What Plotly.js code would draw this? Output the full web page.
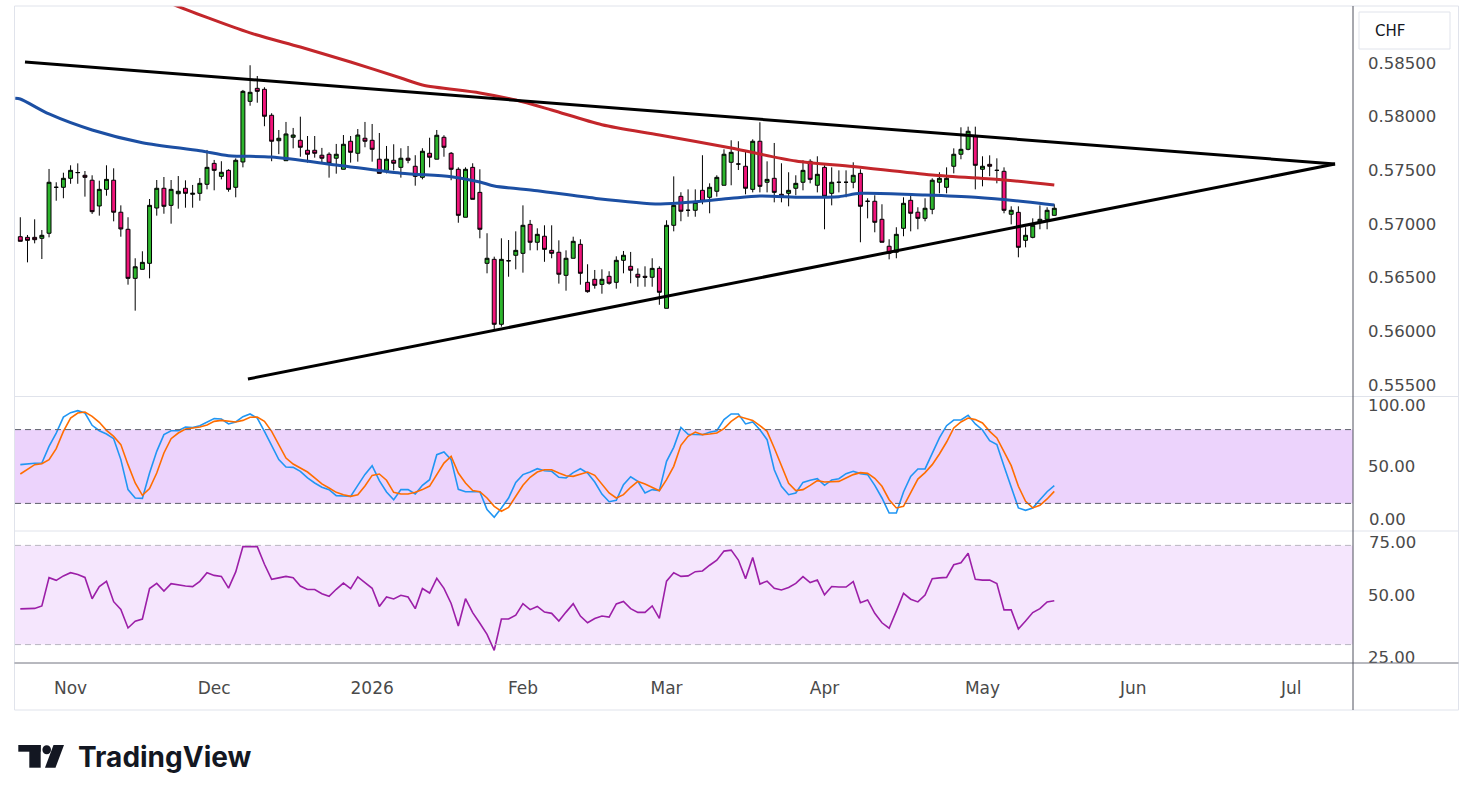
<!DOCTYPE html>
<html>
<head>
<meta charset="utf-8">
<script src="https://cdn.plot.ly/plotly-3.0.1.min.js"></script>
<style>
  html, body { margin: 0; padding: 0; background: #ffffff; }
  #chart { width: 1473px; height: 801px; }
</style>
</head>
<body>
<div id="chart"></div>
<script>
// ---------------- DATA (daily bars, 23 Oct 2025 -> 15 May 2026) ----------------
const openP = [
0.56882,0.56876,0.56876,0.56867,0.56914,0.57342,0.57342,0.57426,0.57478,0.57454,
0.57408,0.57168,0.57323,0.57408,0.57110,0.56951,0.56494,0.56578,0.56634,0.57149,
0.57333,0.57174,0.57282,0.57333,0.57277,0.57286,0.57370,0.57565,0.57444,0.57500,
0.57342,0.57578,0.58143,0.58264,0.58255,0.58013,0.57776,0.57590,0.57808,0.57780,
0.57687,0.57687,0.57641,0.57650,0.57613,0.57510,0.57771,0.57659,0.57799,0.57780,
0.57604,0.57500,0.57594,0.57528,0.57613,0.57538,0.57435,0.57659,0.57604,0.57808,
0.57659,0.57510,0.57063,0.57528,0.57295,0.56634,0.56671,0.56066,0.56659,0.56709,
0.56727,0.56997,0.56830,0.56886,0.56755,0.56737,0.56522,0.56681,0.56811,0.56457,
0.56485,0.56438,0.56513,0.56457,0.56662,0.56606,0.56532,0.56513,0.56504,0.56587,
0.56215,0.56988,0.57258,0.57128,0.57128,0.57314,0.57249,0.57305,0.57361,0.57575,
0.57559,0.57538,0.57323,0.57771,0.57389,0.57426,0.57277,0.57286,0.57333,0.57389,
0.57584,0.57361,0.57528,0.57286,0.57389,0.57389,0.57389,0.57472,0.57212,0.57212,
0.57044,0.56793,0.56737,0.56960,0.57221,0.57110,0.57053,0.57137,0.57389,0.57342,
0.57538,0.57650,0.57696,0.57817,0.57510,0.57556,0.57500,0.57491,0.57091,0.57109,
0.56848,0.56876,0.57016,0.57044,0.57081];
const highP = [
0.57063,0.56898,0.57044,0.56944,0.57513,0.57389,0.57478,0.57547,0.57565,0.57494,
0.57454,0.57404,0.57547,0.57519,0.57174,0.57063,0.56681,0.56746,0.57233,0.57410,
0.57438,0.57410,0.57447,0.57407,0.57364,0.57429,0.57690,0.57597,0.57585,0.57510,
0.57612,0.58249,0.58479,0.58379,0.58274,0.58032,0.57876,0.57951,0.57895,0.58000,
0.57820,0.57820,0.57709,0.57668,0.57746,0.57829,0.57820,0.57885,0.57951,0.57932,
0.57848,0.57727,0.57743,0.57706,0.57727,0.57641,0.57706,0.57804,0.57876,0.57827,
0.57671,0.57528,0.57528,0.57566,0.57510,0.56914,0.56696,0.56867,0.56851,0.56932,
0.57174,0.57038,0.56960,0.56988,0.56988,0.56848,0.56755,0.56882,0.56858,0.56625,
0.56572,0.56578,0.56560,0.56699,0.56749,0.56740,0.56587,0.56606,0.56681,0.56606,
0.57035,0.57444,0.57296,0.57323,0.57323,0.57641,0.57379,0.57454,0.57696,0.57780,
0.57771,0.57687,0.57789,0.57948,0.57584,0.57755,0.57566,0.57482,0.57454,0.57594,
0.57603,0.57631,0.57547,0.57528,0.57500,0.57500,0.57575,0.57510,0.57240,0.57268,
0.57184,0.56858,0.56970,0.57249,0.57268,0.57156,0.57240,0.57426,0.57482,0.57528,
0.57705,0.57901,0.57907,0.57907,0.57631,0.57640,0.57612,0.57528,0.57165,0.57165,
0.56970,0.57053,0.57174,0.57156,0.57184];
const lowP = [
0.56839,0.56643,0.56820,0.56674,0.56876,0.57217,0.57240,0.57375,0.57375,0.57255,
0.57094,0.57078,0.57264,0.57025,0.56882,0.56435,0.56193,0.56578,0.56494,0.57078,
0.57096,0.57003,0.57143,0.57152,0.57152,0.57217,0.57323,0.57314,0.57416,0.57301,
0.57249,0.57528,0.58102,0.58130,0.57911,0.57585,0.57651,0.57590,0.57705,0.57627,
0.57572,0.57618,0.57576,0.57432,0.57469,0.57510,0.57572,0.57581,0.57715,0.57581,
0.57472,0.57472,0.57500,0.57432,0.57566,0.57357,0.57416,0.57528,0.57604,0.57627,
0.57408,0.57012,0.57063,0.57230,0.56867,0.56541,0.56013,0.56044,0.56509,0.56578,
0.56547,0.56755,0.56755,0.56648,0.56681,0.56445,0.56379,0.56681,0.56435,0.56360,
0.56398,0.56351,0.56435,0.56398,0.56541,0.56448,0.56416,0.56416,0.56416,0.56248,
0.56215,0.56932,0.57026,0.57068,0.57068,0.57184,0.57100,0.57255,0.57361,0.57361,
0.57503,0.57277,0.57295,0.57295,0.57295,0.57202,0.57202,0.57165,0.57268,0.57314,
0.57379,0.57295,0.56951,0.57174,0.57295,0.57249,0.57333,0.56830,0.57053,0.56923,
0.56830,0.56671,0.56681,0.56886,0.56932,0.56951,0.57025,0.57091,0.57286,0.57286,
0.57472,0.57603,0.57687,0.57323,0.57351,0.57445,0.57379,0.57100,0.56997,0.56690,
0.56783,0.56867,0.56951,0.56951,0.57081];
const closeP = [
0.56839,0.56848,0.56854,0.56895,0.57389,0.57342,0.57426,0.57500,0.57480,0.57435,
0.57115,0.57323,0.57416,0.57110,0.56954,0.56494,0.56602,0.56643,0.57174,0.57333,
0.57165,0.57323,0.57305,0.57286,0.57286,0.57379,0.57528,0.57500,0.57482,0.57323,
0.57594,0.58236,0.58227,0.58236,0.58004,0.57771,0.57799,0.57839,0.57829,0.57715,
0.57650,0.57659,0.57613,0.57566,0.57650,0.57743,0.57668,0.57829,0.57771,0.57696,
0.57472,0.57604,0.57566,0.57613,0.57594,0.57444,0.57678,0.57622,0.57827,0.57715,
0.57510,0.57081,0.57510,0.57230,0.56951,0.56681,0.56066,0.56671,0.56657,0.56755,
0.56988,0.56830,0.56904,0.56764,0.56727,0.56532,0.56681,0.56839,0.56541,0.56370,
0.56429,0.56485,0.56448,0.56662,0.56709,0.56569,0.56504,0.56504,0.56587,0.56364,
0.56988,0.57174,0.57119,0.57128,0.57202,0.57212,0.57342,0.57435,0.57650,0.57668,
0.57559,0.57333,0.57771,0.57351,0.57416,0.57295,0.57258,0.57314,0.57379,0.57500,
0.57416,0.57463,0.57258,0.57389,0.57389,0.57389,0.57454,0.57165,0.57212,0.57016,
0.56830,0.56727,0.56904,0.57193,0.57100,0.57053,0.57147,0.57408,0.57426,0.57426,
0.57650,0.57696,0.57864,0.57547,0.57538,0.57538,0.57500,0.57128,0.57128,0.56783,
0.56895,0.56988,0.57044,0.57128,0.57147];

// moving averages (read at selected bars)
const ma100Idx = [-0.7,0,4,10,17,25,29,35,44,53,60,64,66,72,80,89,94,99,103,109,114,117,126,133,140,144];
const ma100Val = [0.58172,0.58165,0.58025,0.57876,0.57758,0.57683,0.57637,0.57624,0.57550,0.57473,0.57441,0.57392,0.57354,0.57310,0.57240,0.57187,0.57208,0.57240,0.57261,0.57249,0.57255,0.57286,0.57270,0.57249,0.57208,0.57177];
const ma200Idx = [19,21,32,39,46,53,56,64,69,74,81,89,99,108,116,127,137,144];
const ma200Val = [0.59120,0.59054,0.58780,0.58649,0.58509,0.58360,0.58295,0.58221,0.58155,0.58062,0.57925,0.57829,0.57708,0.57587,0.57536,0.57457,0.57410,0.57364];

// Stochastic %K / %D
const stochK = [
51.5,52.3,52.6,52.8,66.4,77.2,90.2,93.8,95.4,93.5,
83.5,79.1,76.4,72.6,55.6,31.2,24.4,24.1,44.7,62.3,
75.9,79.1,79.1,82.1,81.6,83.2,86.2,88.9,88.6,84.6,
86.2,90.5,92.7,89.4,78.6,66.4,55.6,49.6,49.3,46.1,
40.7,36.6,33.1,31.2,26.3,26.0,25.7,34.7,43.6,50.7,
38.5,29.3,23.0,31.2,31.2,27.6,34.7,39.3,59.6,61.8,
55.6,31.4,29.5,29.5,29.5,14.9,8.7,16.3,24.4,37.1,
43.4,45.5,48.2,46.6,46.1,41.2,40.7,45.0,48.2,44.7,
37.4,27.6,21.4,22.5,35.2,41.7,37.9,28.5,31.2,30.4,
54.2,65.6,81.8,76.2,75.9,75.9,77.8,79.1,88.1,92.7,
92.7,84.6,86.2,79.9,71.8,47.4,33.9,27.1,28.5,37.1,
38.8,40.1,34.7,39.0,40.1,44.2,46.1,44.2,43.4,34.7,
24.4,12.2,12.2,29.3,42.0,48.0,48.0,60.4,73.2,83.2,
87.8,87.8,91.6,84.6,79.7,71.0,67.8,50.1,33.9,16.3,
14.4,16.3,23.0,29.5,34.4];
const stochD = [
43.9,48.0,51.5,52.3,55.6,64.5,78.6,89.4,93.5,94.3,
90.8,85.9,79.4,74.5,67.8,51.5,36.6,26.6,32.0,44.7,
61.0,72.6,77.2,80.5,81.3,82.1,83.7,86.7,87.5,86.7,
86.2,87.5,90.0,90.2,86.7,78.6,67.8,56.9,52.0,48.8,
45.5,40.7,35.8,32.5,29.0,27.1,25.7,27.1,34.2,42.8,
43.9,38.8,29.0,27.6,27.6,29.0,31.2,34.1,43.9,52.8,
58.3,44.7,36.6,30.4,29.5,24.4,17.6,13.6,16.8,25.7,
34.7,41.2,45.5,47.4,47.4,44.7,42.5,42.0,43.9,45.5,
42.8,35.2,28.5,24.4,27.1,33.1,37.9,35.8,33.1,30.4,
39.3,50.1,67.2,74.5,78.0,75.9,76.4,77.2,80.8,86.7,
90.8,89.4,87.5,83.2,78.6,65.0,50.7,36.3,30.4,31.2,
34.7,38.5,37.4,37.4,37.9,40.7,43.4,45.0,44.4,40.4,
33.9,23.0,16.3,17.6,29.0,39.8,45.0,51.5,60.2,69.9,
81.3,86.2,89.4,88.1,85.4,78.6,73.2,62.3,50.7,33.9,
21.7,16.3,18.4,23.6,29.8];

// RSI
const rsi = [
44.4,44.5,44.6,45.6,57.0,55.9,57.7,59.0,58.3,57.1,
48.5,53.4,55.5,47.3,44.2,36.7,39.4,40.3,52.6,54.7,
51.6,54.6,54.0,53.6,53.4,55.5,59.0,57.9,57.5,52.8,
59.3,69.5,69.5,69.5,62.4,56.3,56.9,57.5,57.0,53.6,
52.2,52.2,50.5,49.5,52.3,54.8,52.6,57.3,55.0,52.7,
45.4,49.2,48.4,49.9,49.2,44.5,52.6,50.8,56.7,52.7,
46.6,37.5,48.5,42.9,38.6,34.1,27.7,40.3,40.3,41.9,
46.5,44.1,45.4,43.1,42.6,39.5,43.1,46.5,41.5,38.8,
40.5,41.5,41.1,46.4,47.4,44.5,43.0,43.0,45.6,40.6,
55.6,59.0,57.5,57.7,59.4,59.7,62.0,64.0,67.7,68.1,
64.1,56.6,65.1,54.4,55.6,52.7,52.0,53.0,54.7,57.4,
55.0,56.0,50.1,53.4,53.2,53.2,55.4,46.9,48.0,42.6,
38.8,36.6,43.5,50.7,48.3,47.2,50.0,56.6,56.9,57.1,
62.2,63.0,66.8,56.3,56.0,56.0,54.6,44.0,44.0,36.3,
39.5,42.9,44.5,47.2,47.7];

// drawn triangle trendlines (bar index, price)
const upperTrendIdx = [0.65, 183.1];
const upperTrendVal = [0.58509, 0.57559];
const lowerTrendIdx = [31.7, 183.1];
const lowerTrendVal = [0.55556, 0.57559];

// time-axis ticks (bar index of first bar of each month) and labels
const monthTickIdx = [7, 27, 49, 70, 90, 112, 134, 155, 177];
const monthTickText = ['Nov', 'Dec', '2026', 'Feb', 'Mar', 'Apr', 'May', 'Jun', 'Jul'];

const priceTicks = [0.555, 0.560, 0.565, 0.570, 0.575, 0.580, 0.585];
const stochTicks = [50, 100];          // drawn on the axis
const stochEdgeTick = 0;               // half hidden at the pane edge
const rsiTicks = [25, 50];             // drawn on the axis
const rsiEdgeTick = 75;                // half hidden at the pane edge
const stochBand = [20, 80];
const rsiBand = [30, 70];

// ---------------- LAYOUT HELPERS ----------------
const W = 1473, H = 801;
const px = x => x / W;
const py = y => 1 - y / H;
const barIdx = openP.map((_, i) => i);

const tickFont = { family: 'DejaVu Sans, Verdana, sans-serif', size: 16.5, color: '#4a4a4a' };

const traces = [
  {
    type: 'candlestick', x: barIdx, open: openP, high: highP, low: lowP, close: closeP,
    xaxis: 'x', yaxis: 'y',
    increasing: { line: { color: '#000000', width: 1 }, fillcolor: '#2db52d' },
    decreasing: { line: { color: '#000000', width: 1 }, fillcolor: '#f0147a' },
    whiskerwidth: 0, hoverinfo: 'skip', showlegend: false
  },
  {
    type: 'scatter', mode: 'lines', x: ma200Idx, y: ma200Val, xaxis: 'x', yaxis: 'y',
    line: { color: '#c3262b', width: 3, shape: 'spline', smoothing: 0.8 }, hoverinfo: 'skip', showlegend: false
  },
  {
    type: 'scatter', mode: 'lines', x: ma100Idx, y: ma100Val, xaxis: 'x', yaxis: 'y',
    line: { color: '#1c4fa3', width: 3, shape: 'spline', smoothing: 0.8 }, hoverinfo: 'skip', showlegend: false
  },
  {
    type: 'scatter', mode: 'lines', x: upperTrendIdx, y: upperTrendVal, xaxis: 'x', yaxis: 'y',
    line: { color: '#000000', width: 3 }, hoverinfo: 'skip', showlegend: false
  },
  {
    type: 'scatter', mode: 'lines', x: lowerTrendIdx, y: lowerTrendVal, xaxis: 'x', yaxis: 'y',
    line: { color: '#000000', width: 3 }, hoverinfo: 'skip', showlegend: false
  },
  {
    type: 'scatter', mode: 'lines', x: barIdx, y: stochK, xaxis: 'x', yaxis: 'y2',
    line: { color: '#2196f3', width: 1.6 }, hoverinfo: 'skip', showlegend: false
  },
  {
    type: 'scatter', mode: 'lines', x: barIdx, y: stochD, xaxis: 'x', yaxis: 'y2',
    line: { color: '#ff6d00', width: 1.6 }, hoverinfo: 'skip', showlegend: false
  },
  {
    type: 'scatter', mode: 'lines', x: barIdx, y: rsi, xaxis: 'x', yaxis: 'y3',
    line: { color: '#9c1fa8', width: 1.6 }, hoverinfo: 'skip', showlegend: false
  }
];

const shapes = [
  // indicator backgrounds
  { type: 'rect', xref: 'paper', yref: 'y2', x0: px(15), x1: px(1353), y0: stochBand[0], y1: stochBand[1],
    fillcolor: '#ecd3fc', line: { width: 0 }, layer: 'below' },
  { type: 'line', xref: 'paper', yref: 'y2', x0: px(15), x1: px(1353), y0: stochBand[1], y1: stochBand[1],
    line: { color: '#5d606b', width: 1, dash: '6px,4px' } },
  { type: 'line', xref: 'paper', yref: 'y2', x0: px(15), x1: px(1353), y0: stochBand[0], y1: stochBand[0],
    line: { color: '#5d606b', width: 1, dash: '6px,4px' } },
  { type: 'rect', xref: 'paper', yref: 'y3', x0: px(15), x1: px(1353), y0: rsiBand[0], y1: rsiBand[1],
    fillcolor: '#f5e6fd', line: { width: 0 }, layer: 'below' },
  { type: 'line', xref: 'paper', yref: 'y3', x0: px(15), x1: px(1353), y0: rsiBand[1], y1: rsiBand[1],
    line: { color: '#b8b6c0', width: 1, dash: '6px,4px' } },
  { type: 'line', xref: 'paper', yref: 'y3', x0: px(15), x1: px(1353), y0: rsiBand[0], y1: rsiBand[0],
    line: { color: '#b8b6c0', width: 1, dash: '6px,4px' } },
  // frame and pane separators
  { type: 'rect', xref: 'paper', yref: 'paper', x0: px(14.5), x1: px(1458.5), y0: py(710), y1: py(6),
    line: { color: '#e0e3eb', width: 1 } },
  { type: 'line', xref: 'paper', yref: 'paper', x0: px(14.5), x1: px(1458.5), y0: py(396.5), y1: py(396.5),
    line: { color: '#e0e3eb', width: 1 } },
  { type: 'line', xref: 'paper', yref: 'paper', x0: px(14.5), x1: px(1458.5), y0: py(531), y1: py(531),
    line: { color: '#e0e3eb', width: 1 } },
  { type: 'line', xref: 'paper', yref: 'paper', x0: px(14.5), x1: px(1458.5), y0: py(663), y1: py(663),
    line: { color: '#70737e', width: 1 } },
  { type: 'line', xref: 'paper', yref: 'paper', x0: px(1353), x1: px(1353), y0: py(710), y1: py(6),
    line: { color: '#50535e', width: 1 } },
  // currency box
  { type: 'rect', xref: 'paper', yref: 'paper', x0: px(1359), x1: px(1450), y0: py(49), y1: py(12),
    fillcolor: '#ffffff', line: { color: '#e0e3eb', width: 1 } },
  // TradingView logo mark
  { type: 'rect', xref: 'paper', yref: 'paper', x0: px(18.3), x1: px(40.7), y0: py(751.7), y1: py(745),
    fillcolor: '#131722', line: { width: 0 } },
  { type: 'rect', xref: 'paper', yref: 'paper', x0: px(29.3), x1: px(40.7), y0: py(767.7), y1: py(745),
    fillcolor: '#131722', line: { width: 0 } },
  { type: 'circle', xref: 'paper', yref: 'paper', x0: px(42.4), x1: px(51.0), y0: py(754.2), y1: py(745.2),
    fillcolor: '#131722', line: { width: 0 } },
  { type: 'path', xref: 'paper', yref: 'paper',
    path: 'M ' + px(53.5) + ' ' + py(745) + ' L ' + px(64) + ' ' + py(745) + ' L ' + px(55.5) + ' ' + py(767.7) +
          ' L ' + px(45) + ' ' + py(767.7) + ' Z',
    fillcolor: '#131722', line: { width: 0 } }
];

const annotations = [
  { xref: 'paper', yref: 'paper', x: px(1373), y: py(31), xanchor: 'left', yanchor: 'middle',
    text: 'CHF', showarrow: false, font: { family: 'DejaVu Sans, sans-serif', size: 15, color: '#131722' } },
  // edge ticks of the two indicator panes (the reference shows them cut by the pane border)
  { xref: 'paper', yref: 'y2', x: px(1367), y: stochEdgeTick, xanchor: 'left', yanchor: 'middle', yshift: 9,
    text: stochEdgeTick.toFixed(2), showarrow: false, font: tickFont },
  { xref: 'paper', yref: 'y3', x: px(1367), y: rsiEdgeTick, xanchor: 'left', yanchor: 'middle', yshift: -10,
    text: rsiEdgeTick.toFixed(2), showarrow: false, font: tickFont },
  { xref: 'paper', yref: 'paper', x: px(76), y: py(757), xanchor: 'left', yanchor: 'middle',
    text: 'TradingView', showarrow: false,
    font: { family: 'Inter, Roboto, sans-serif', size: 28, color: '#131722', weight: 700 } }
];

const layout = {
  width: W, height: H,
  margin: { l: 0, r: 0, t: 0, b: 0, pad: 0 },
  paper_bgcolor: '#ffffff', plot_bgcolor: 'rgba(0,0,0,0)',
  showlegend: false, hovermode: false, dragmode: false,
  boxgap: 0.22,
  xaxis: {
    domain: [px(15), px(1353)], range: [-0.74, 185.6], anchor: 'y3',
    tickvals: monthTickIdx, ticktext: monthTickText,
    showgrid: false, zeroline: false, showline: false, ticks: '',
    ticklabelstandoff: 13, tickfont: { family: 'DejaVu Sans, Verdana, sans-serif', size: 17, color: '#4a4a4a' },
    rangeslider: { visible: false }, fixedrange: true
  },
  yaxis: {
    domain: [py(396), py(6)], range: [0.55398, 0.59031], side: 'right', anchor: 'x',
    tickvals: priceTicks, tickformat: '.5f', showgrid: false, zeroline: false, showline: false,
    ticks: '', ticklabelstandoff: 14, tickfont: tickFont, fixedrange: true
  },
  yaxis2: {
    domain: [py(531), py(397)], range: [-2.44, 106.5], side: 'right', anchor: 'x',
    tickvals: stochTicks, tickformat: '.2f', showgrid: false, zeroline: false, showline: false,
    ticks: '', ticklabelstandoff: 14, tickfont: tickFont, fixedrange: true
  },
  yaxis3: {
    domain: [py(663), py(532)], range: [22.58, 75.4], side: 'right', anchor: 'x',
    tickvals: rsiTicks, tickformat: '.2f', showgrid: false, zeroline: false, showline: false,
    ticks: '', ticklabelstandoff: 14, tickfont: tickFont, fixedrange: true
  },
  shapes: shapes,
  annotations: annotations
};

Plotly.newPlot('chart', traces, layout, { displayModeBar: false, staticPlot: true });
</script>
</body>
</html>
